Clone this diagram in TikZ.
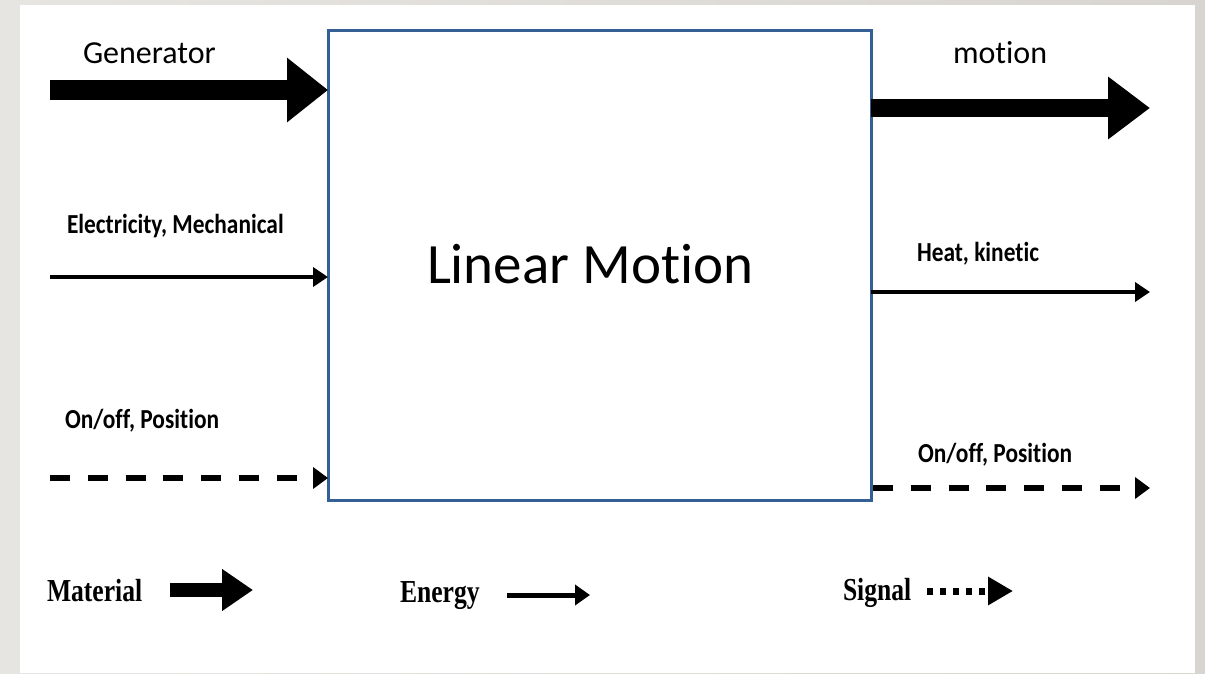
\documentclass[tikz,border=0pt]{standalone}
\usepackage{fontspec}
\usepackage{graphicx}
\usetikzlibrary{arrows.meta}
\newfontfamily\calfont[Ligatures={NoCommon}]{Carlito}
\newfontfamily\tnrfont{Liberation Serif}
\definecolor{boxblue}{RGB}{52,96,150}
\definecolor{bgleft}{RGB}{231,229,225}
\definecolor{bgright}{RGB}{216,213,208}
\tikzset{
  every node/.style={inner sep=0pt, outer sep=0pt},
  biglabel/.style={anchor=base west, font=\calfont\fontsize{32}{38}\selectfont},
  smalllabel/.style={anchor=base west, font=\calfont\bfseries\fontsize{27.5}{32}\selectfont},
  legendlabel/.style={anchor=base west, font=\tnrfont\bfseries\fontsize{32}{36}\selectfont},
  materialflow/.style={line width=20pt, -{Triangle[length=41pt, width=62pt]}},
  energyflow/.style={line width=4pt, -{Triangle[length=15pt, width=19pt]}},
  signalflow/.style={line width=6pt, dash pattern=on 20pt off 17.8pt, -{Triangle[length=15pt, width=21pt]}},
}
\newcommand{\squeeze}[1]{\scalebox{0.85}[1]{#1}}
\newcommand{\squeezemore}[1]{\scalebox{0.8}[1]{#1}}
\begin{document}
\begin{tikzpicture}[x=1pt, y=-1pt]
\useasboundingbox (0,0) rectangle (1205,673);
\shade[left color=bgleft, right color=bgright] (0,0) rectangle (1205,673);
\fill[white] (20,5) rectangle (1195,673);

% main box
\node[draw=boxblue, line width=3pt, minimum width=543pt, minimum height=470pt] (box) at (599.5,265) {};
\node[anchor=base west, font=\calfont\fontsize{57}{66}\selectfont] (title) at (427,283) {Linear Motion};

% labels
\node[biglabel] (lgen) at (83,63) {Generator};
\node[biglabel] (lmot) at (953,63) {motion};
\node[smalllabel] (lelec) at (67,233) {\squeeze{Electricity, Mechanical}};
\node[smalllabel] (lheat) at (917,261) {\squeeze{Heat, kinetic}};
\node[smalllabel] (lonl) at (65,428) {\squeeze{On/off, Position}};
\node[smalllabel] (lonr) at (918,462) {\squeeze{On/off, Position}};

% free ends
\coordinate (gen) at (50,90);
\coordinate (mot) at (1150,108);
\coordinate (elec) at (50,277);
\coordinate (heat) at (1150,292);
\coordinate (sigin) at (50,478);
\coordinate (sigout) at (1150,488);

% flows
\draw[materialflow] (gen) -- (gen -| box.west);
\draw[materialflow, line width=18pt, -{Triangle[length=42pt, width=60pt]}] (mot -| box.east) -- (mot);
\draw[energyflow] (elec) -- (elec -| box.west);
\draw[energyflow] (heat -| box.east) -- (heat);
\draw[signalflow] (sigin) -- (sigin -| box.west);
\draw[signalflow] ([xshift=2pt]sigout -| box.east) -- (sigout);

% legend
\node[legendlabel] (lmat) at (47,601) {\squeezemore{Material}};
\node[legendlabel] (lene) at (400,602) {\squeezemore{Energy}};
\node[legendlabel] (lsig) at (843,600) {\squeezemore{Signal}};
\coordinate (m0) at (170,590);
\coordinate (m1) at (253,590);
\coordinate (e0) at (507,595);
\coordinate (e1) at (590,595);
\coordinate (s0) at (927,591);
\coordinate (s1) at (1013,591);
\draw[line width=14pt, -{Triangle[length=31pt, width=40pt]}] (m0) -- (m1);
\draw[line width=5pt, -{Triangle[length=15pt, width=20pt]}] (e0) -- (e1);
\draw[line width=7pt, dash pattern=on 6pt off 7pt, -{Triangle[length=25pt, width=27pt]}] (s0) -- (s1);
\end{tikzpicture}
\end{document}
